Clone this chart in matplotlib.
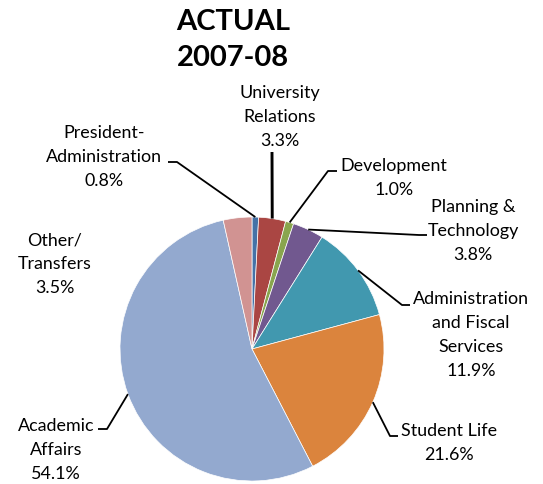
import numpy as np
import matplotlib.pyplot as plt

W, H = 543, 484

names = ["President-\nAdministration", "University\nRelations", "Development",
         "Planning &\nTechnology", "Administration\nand Fiscal\nServices",
         "Student Life", "Academic\nAffairs", "Other/\nTransfers"]
shares = [0.8, 3.3, 1.0, 3.8, 11.9, 21.6, 54.1, 3.5]
colors = ["#4572A7", "#AA4643", "#89A54E", "#71588F", "#4198AF",
          "#DB843D", "#93A9CF", "#D19392"]

# label block centres and leader elbows/ends, in pixels from the top-left
label_xy = [(104, 157), (280, 117), (394, 178), (473, 231),
            (471, 335), (449, 443), (56, 450), (55, 264)]
leaders = [[(177, 162), (168, 162)], [(272, 152)], [(328, 171), (337, 171)],
           [(419, 235), (427, 235)], [(402, 305), (410, 305)],
           [(390, 436), (398, 436)], [(107, 429), (98, 429)], None]

cx, cy, r = 252, H - 349, 132

plt.rcParams['font.family'] = ['Lato', 'DejaVu Sans']
fig = plt.figure(figsize=(W / 100, H / 100), dpi=100)
ax = fig.add_axes([0, 0, 1, 1])
ax.pie(shares, colors=colors, startangle=90, counterclock=False,
       center=(cx, cy), radius=r,
       wedgeprops=dict(edgecolor='white', linewidth=0.5))
ax.set_xlim(0, W)
ax.set_ylim(0, H)
ax.set_aspect('equal')
ax.axis('off')

cum = np.cumsum([0] + shares[:-1])
for i, (name, v) in enumerate(zip(names, shares)):
    tx, ty = label_xy[i]
    ax.text(tx, H - ty, f"{name}\n{v:.1f}%", ha='center', va='center',
            multialignment='center', fontsize=12.9, linespacing=1.6,
            color='black')
    if leaders[i] is None:
        continue
    ang = np.deg2rad(90 - 360 * (cum[i] + v / 2) / 100)
    px = [cx + r * np.cos(ang)] + [p[0] for p in leaders[i]]
    py = [cy + r * np.sin(ang)] + [H - p[1] for p in leaders[i]]
    lw = 2.1 if len(leaders[i]) == 1 else 1.3
    ax.plot(px, py, color='black', lw=lw, solid_capstyle='butt')

ax.text(233, H - 40, "ACTUAL\n2007-08", ha='center', va='center',
        fontsize=21, fontweight='bold', linespacing=1.45)

fig.savefig("out.png", dpi=100)
